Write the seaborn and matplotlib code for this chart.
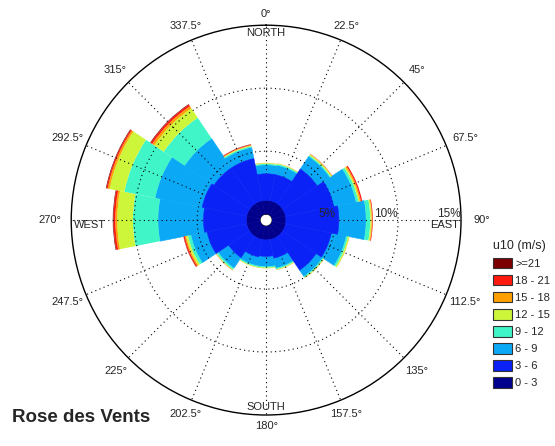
import numpy as np
import matplotlib
matplotlib.use("Agg")
import matplotlib.pyplot as plt
from matplotlib.patches import Patch
import seaborn as sns

# 16 directions, compass degrees (clockwise from north)
directions = [0, 22.5, 45, 67.5, 90, 112.5, 135, 157.5,
              180, 202.5, 225, 247.5, 270, 292.5, 315, 337.5]

speed_bins = ["0 - 3", "3 - 6", "6 - 9", "9 - 12", "12 - 15", "15 - 18", "18 - 21", ">=21"]
bin_colors = ["#00008c", "#0a22f5", "#0aa8f5", "#40f5c8", "#cdf53a", "#ffa000", "#ff1a10", "#7d0000"]

# frequency (%) of each speed bin per direction
f_0_3 = [1.1, 1.1, 1.1, 1.1, 1.1, 1.1, 1.1, 1.1, 1.1, 1.1, 1.1, 1.1, 1.1, 1.1, 1.1, 1.1]
f_3_6 = [2.1, 2.1, 3.3, 3.9, 4.2, 3.7, 3.2, 1.5, 1.3, 1.4, 2.0, 3.2, 3.4, 3.6, 3.4, 3.4]
f_6_9 = [0.7, 0.75, 1.2, 1.8, 2.15, 1.2, 0.6, 0.8, 0.8, 0.7, 1.0, 1.3, 3.6, 3.8, 2.8, 0.9]
f_9_12 = [0.1, 0.1, 0.1, 0.2, 0.35, 0.15, 0.1, 0.1, 0.1, 0.1, 0.15, 0.25, 2.0, 2.5, 2.0, 0.1]
f_12_15 = [0.05, 0.05, 0.1, 0.1, 0.1, 0.1, 0.05, 0.05, 0.05, 0.05, 0.05, 0.15, 1.25, 1.2, 0.9, 0.05]
f_15_18 = [0.02, 0.02, 0.03, 0.1, 0.05, 0.02, 0.02, 0.02, 0.01, 0.01, 0.02, 0.1, 0.15, 0.15, 0.2, 0.05]
f_18_21 = [0, 0, 0.02, 0.1, 0.05, 0, 0, 0, 0, 0, 0.01, 0.1, 0.15, 0.1, 0.15, 0.05]
f_21_up = [0, 0, 0, 0, 0, 0, 0, 0, 0, 0, 0, 0.02, 0.05, 0.05, 0.05, 0.02]

freqs = [f_0_3, f_3_6, f_6_9, f_9_12, f_12_15, f_15_18, f_18_21, f_21_up]

sns.set_style("white")
plt.rcParams['font.family'] = ['Liberation Sans', 'DejaVu Sans']

fig = plt.figure(figsize=(5.55, 4.46), dpi=100)
ax = fig.add_axes([0.128, 0.0695, 0.703, 0.874], projection='polar')
ax.set_theta_zero_location('N')
ax.set_theta_direction(-1)
ax.set_ylim(0, 15)
ax.set_rorigin(-0.476)

theta = np.deg2rad(directions)
width = 2 * np.pi / len(directions)
bottom = np.zeros(len(directions))
for i, (vals, col, lab) in enumerate(zip(freqs, bin_colors, speed_bins)):
    vals = np.array(vals)
    # the two slowest bins sit above the dotted grid, the rest below it
    z = 3 if i < 2 else 1
    # thin same-colour edge on the big fills hides seams between wedges
    lw = 0.4 if i < 3 else 0
    ax.bar(theta, vals, width=width, bottom=bottom, color=col,
           edgecolor=col, linewidth=lw, label=lab, zorder=z)
    bottom += vals

ax.set_thetagrids(directions, labels=[])
ax.set_rgrids([5, 10], labels=[])
ax.grid(True, color='black', linestyle=(0, (1, 3)), linewidth=0.8)
ax.set_axisbelow(False)
ax.spines['polar'].set_color('black')
ax.spines['polar'].set_linewidth(1.0)

# angle labels outside the circle
px_per_unit = 195 / 15.476
for d in directions:
    r_px = 206 + 10 * abs(np.sin(np.deg2rad(d)))
    ax.text(np.deg2rad(d), r_px / px_per_unit - 0.476, f"{d:g}°",
            ha='center', va='center', fontsize=8, clip_on=False)

# radial labels
for rv in [5, 10, 15]:
    ax.text(np.pi / 2, rv, f"{rv}%", ha='right', va='bottom', fontsize=8.5, zorder=5)

ax.text(0, 14.8, "NORTH", ha='center', va='top', fontsize=8, zorder=5)
ax.text(np.pi, 14.8, "SOUTH", ha='center', va='bottom', fontsize=8, zorder=5)
ax.text(3 * np.pi / 2, 14.8, "WEST", ha='left', va='top', fontsize=8, zorder=5)
ax.text(np.pi / 2, 14.8, "EAST", ha='right', va='top', fontsize=8, zorder=5)

handles = [Patch(facecolor=c, edgecolor='#333333', linewidth=0.8) for c in bin_colors][::-1]
fig.legend(handles, speed_bins[::-1], loc='upper left', bbox_to_anchor=(0.888, 0.462),
           frameon=False, title="u10 (m/s)", fontsize=8, title_fontsize=9,
           handlelength=1.7, handleheight=1.05, labelspacing=0.55, handletextpad=0.3,
           borderpad=0, borderaxespad=0, alignment='left')

fig.text(0.022, 0.063, "Rose des Vents", fontsize=13.5, fontweight='bold', va='center', ha='left')

fig.savefig("out.png", dpi=100)
